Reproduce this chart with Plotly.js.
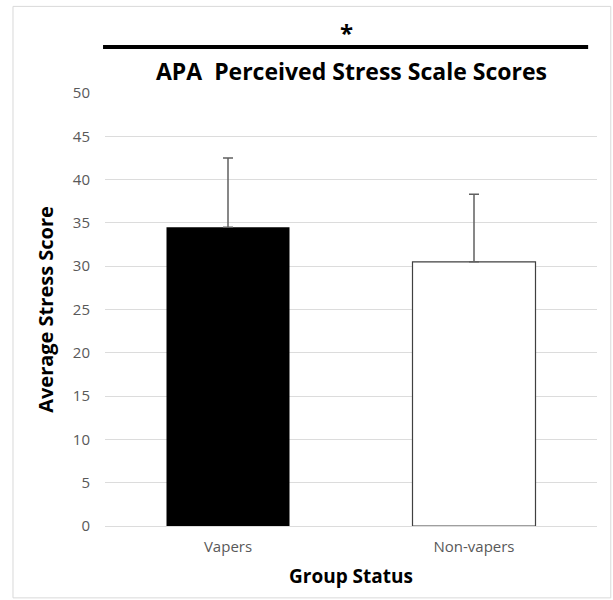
<!DOCTYPE html>
<html>
<head>
<meta charset="utf-8">
<script src="https://cdn.plot.ly/plotly-3.0.1.min.js"></script>
<style>html,body{margin:0;padding:0;background:#fff;}#chart{width:613px;height:600px;}</style>
</head>
<body>
<div id="chart"></div>
<script>
const categories = ["Vapers", "Non-vapers"];
const meanScores = [34.5, 30.5];
const sdScores = [8.0, 7.8];
const yTicks = [0, 5, 10, 15, 20, 25, 30, 35, 40, 45, 50];

const trace = {
  type: "bar",
  x: categories,
  y: meanScores,
  width: 0.5,
  marker: {
    color: ["#000000", "#ffffff"],
    line: {color: ["#000000", "#404040"], width: [0, 1.2]}
  },
  error_y: {type: "data", array: sdScores, symmetric: false, arrayminus: [0, 0], color: "#606060", thickness: 1.5, width: 5},
  hoverinfo: "none"
};

const layout = {
  width: 613, height: 600,
  margin: {l: 105, r: 16, t: 93, b: 74},
  paper_bgcolor: "#ffffff", plot_bgcolor: "#ffffff",
  showlegend: false,
  bargap: 0.5,
  font: {family: "Open Sans, sans-serif", color: "#595959"},
  xaxis: {
    type: "category",
    showgrid: false, zeroline: false, showline: false, ticks: "",
    tickfont: {size: 15, color: "#595959"},
    ticklabelstandoff: 10,
    title: {text: "Group Status", font: {size: 19, color: "#000000", family: "Open Sans, sans-serif", weight: "bold"}, standoff: 14}
  },
  yaxis: {
    range: [0, 50], tickvals: yTicks, ticktext: yTicks.map(String),
    showgrid: true, gridcolor: "#dcdcdc", gridwidth: 1,
    zeroline: true, zerolinecolor: "#dcdcdc", zerolinewidth: 1,
    showline: false, ticks: "", ticklen: 0,
    tickfont: {size: 15, color: "#595959"},
    ticklabelstandoff: 14,
    title: {text: "Average Stress Score", font: {size: 20, color: "#000000", family: "Open Sans, sans-serif", weight: "bold"}, standoff: 13}
  },
  annotations: [
    {xref: "paper", yref: "paper", x: 0.5, y: 1.05, text: "<b>APA  Perceived Stress Scale Scores</b>", showarrow: false, font: {size: 23, color: "#000000", family: "Open Sans, sans-serif"}, xanchor: "center", yanchor: "middle"},
    {xref: "paper", yref: "paper", x: 0.49, y: 1.14, text: "<b>*</b>", showarrow: false, font: {size: 24, color: "#000000", family: "Open Sans, sans-serif"}, xanchor: "center", yanchor: "middle"}
  ],
  shapes: [
    {type: "line", xref: "paper", yref: "paper", x0: -0.004, x1: 0.982, y0: 1.106, y1: 1.106, line: {color: "#000000", width: 4}},
    {type: "rect", xref: "paper", yref: "paper", x0: -0.187, x1: 1.028, y0: -0.166, y1: 1.2, line: {color: "#d9d9d9", width: 1}, layer: "below"}
  ]
};

Plotly.newPlot("chart", [trace], layout, {displayModeBar: false, staticPlot: true});
</script>
</body>
</html>
